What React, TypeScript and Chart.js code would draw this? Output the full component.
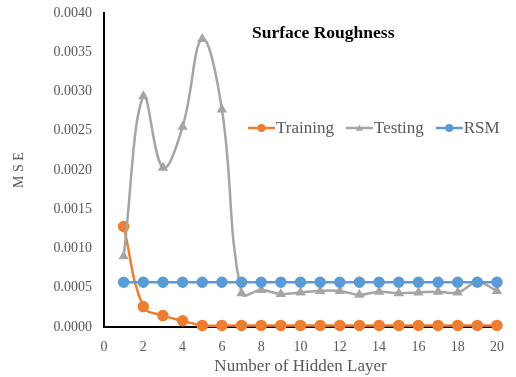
import React, { useEffect, useRef } from "react";
import { Chart, registerables } from "chart.js";

Chart.register(...registerables);

const chartTitle = "Surface Roughness";
const xTitle = "Number of Hidden Layer";
const yTitle = "M S E";
const seriesNames = ["Training", "Testing", "RSM"];
const layers = [1, 2, 3, 4, 5, 6, 7, 8, 9, 10, 11, 12, 13, 14, 15, 16, 17, 18, 19, 20];
const training = [0.00128, 0.00026, 0.000145, 0.00008, 0.00002, 0.00002, 0.00002, 0.00002, 0.00002, 0.00002, 0.00002, 0.00002, 0.00002, 0.00002, 0.00002, 0.00002, 0.00002, 0.00002, 0.00002, 0.00002];
const testing = [0.0009, 0.00294, 0.00203, 0.00255, 0.00367, 0.00277, 0.00043, 0.00047, 0.00042, 0.00044, 0.00046, 0.00046, 0.00041, 0.00045, 0.00043, 0.00044, 0.00045, 0.00044, 0.00057, 0.00046];
const rsm = [0.00057, 0.00057, 0.00057, 0.00057, 0.00057, 0.00057, 0.00057, 0.00057, 0.00057, 0.00057, 0.00057, 0.00057, 0.00057, 0.00057, 0.00057, 0.00057, 0.00057, 0.00057, 0.00057, 0.00057];
const colors = ["#ED7D31", "#A5A5A5", "#5B9BD5"];
const markers = ["circle", "triangle", "circle"];

const FONT = "'Liberation Serif', 'Times New Roman', serif";
const TEXT = "#595959";

const overlayPlugin = {
  id: "overlay",
  afterDraw(chart: any) {
    const { ctx, chartArea } = chart;
    ctx.save();
    // title
    ctx.font = `bold 17.5px ${FONT}`;
    ctx.fillStyle = "#000";
    ctx.textBaseline = "middle";
    ctx.textAlign = "left";
    ctx.fillText(chartTitle, chartArea.left + 148, chartArea.top + 20);
    // legend
    let x = chartArea.left + 144;
    const y = chartArea.top + 115;
    ctx.font = `17px ${FONT}`;
    chart.data.datasets.forEach((ds: any) => {
      ctx.strokeStyle = ds.borderColor;
      ctx.lineWidth = 2.5;
      ctx.beginPath();
      ctx.moveTo(x, y);
      ctx.lineTo(x + 27, y);
      ctx.stroke();
      ctx.fillStyle = ds.pointBackgroundColor;
      ctx.beginPath();
      if (ds.pointStyle === "triangle") {
        const r = 3.5;
        ctx.moveTo(x + 13.5, y - r);
        ctx.lineTo(x + 13.5 + r, y + r * 0.8);
        ctx.lineTo(x + 13.5 - r, y + r * 0.8);
        ctx.closePath();
      } else {
        ctx.arc(x + 13.5, y, 4, 0, Math.PI * 2);
      }
      ctx.fill();
      ctx.fillStyle = TEXT;
      ctx.fillText(ds.label, x + 28, y + 1);
      x += 28 + ctx.measureText(ds.label).width + 12;
    });
    ctx.restore();
  },
};

export default function App() {
  const ref = useRef<HTMLCanvasElement>(null);
  useEffect(() => {
    const series = [training, testing, rsm];
    const chart = new Chart(ref.current as HTMLCanvasElement, {
      type: "line",
      data: {
        datasets: series.map((vals, i) => ({
          label: seriesNames[i],
          data: layers.map((l, j) => ({ x: l, y: vals[j] })),
          borderColor: colors[i],
          backgroundColor: colors[i],
          pointBackgroundColor: colors[i],
          pointBorderColor: colors[i],
          pointStyle: markers[i],
          pointRadius: i === 1 ? 3.5 : 4.5,
          borderWidth: 2.5,
          tension: i === 2 ? 0 : 0.4,
          clip: false,
          order: 3 - i,
        })),
      },
      options: {
        animation: false,
        responsive: false,
        layout: { padding: { left: 0, right: 10, top: 13, bottom: 0 } },
        plugins: { legend: { display: false }, tooltip: { enabled: false }, title: { display: false } },
        scales: {
          x: {
            type: "linear",
            min: 0,
            max: 20,
            grid: { display: false, drawTicks: false },
            border: { display: true, color: "#000", width: 2 },
            ticks: { stepSize: 2, padding: 12, color: TEXT, font: { family: FONT, size: 14 } },
            title: { display: true, text: xTitle, color: TEXT, font: { family: FONT, size: 17 }, padding: { top: 3, bottom: 0 } },
            afterFit: (s: any) => { s.height = 50; },
          },
          y: {
            min: 0,
            max: 0.004,
            grid: { display: false, drawTicks: false },
            border: { display: true, color: "#000", width: 2 },
            ticks: {
              stepSize: 0.0005,
              padding: 12,
              color: TEXT,
              font: { family: FONT, size: 14 },
              callback: (v: any) => Number(v).toFixed(4),
            },
            title: { display: true, text: yTitle, color: TEXT, font: { family: FONT, size: 14 }, padding: { top: 11, bottom: 0 } },
            afterFit: (s: any) => { s.width = 104; s.paddingTop = 0; s.paddingBottom = 0; },
          },
        },
      },
      plugins: [overlayPlugin],
    } as any);
    return () => chart.destroy();
  }, []);
  return (
    <div style={{ position: "fixed", left: 0, top: 0, width: 516, height: 377, background: "#fff" }}>
      <canvas ref={ref} width={516} height={377} style={{ display: "block" }} />
    </div>
  );
}
